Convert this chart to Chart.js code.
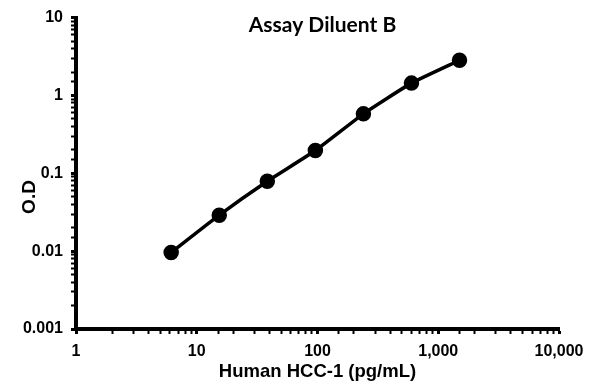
<!DOCTYPE html>
<html>
<head>
<meta charset="utf-8">
<script src="https://cdn.jsdelivr.net/npm/chart.js@4/dist/chart.umd.min.js"></script>
<style>
  html, body { margin: 0; padding: 0; background: #fff; }
  #wrap { width: 595px; height: 392px; }
</style>
</head>
<body>
<div id="wrap"><canvas id="chartCurva"></canvas></div>
<script>
// valores (pg/mL vs O.D)
const concentracoes = [6.14, 15.36, 38.4, 96, 240, 600, 1500];
const densidades = [0.0096, 0.029, 0.079, 0.196, 0.58, 1.44, 2.83];
const ticksX = [1, 10, 100, 1000, 10000];
const ticksY = [0.001, 0.01, 0.1, 1, 10];
const titulo = 'Assay Diluent B';
const tituloX = 'Human HCC-1 (pg/mL)';
const tituloY = 'O.D';

const fonteTicks = { family: "'Liberation Sans', Arial, sans-serif", size: 16, weight: 'bold' };

const ehPotencia = (v) => Math.abs(Math.log10(v) - Math.round(Math.log10(v))) < 1e-9;

// titulo dentro da area do grafico + titulo do eixo Y (deslocado para baixo como no original)
const textosPlugin = {
    id: 'textos',
    afterDraw(chart) {
        const { ctx, chartArea } = chart;
        ctx.save();
        ctx.fillStyle = '#000';
        ctx.textAlign = 'center';
        ctx.textBaseline = 'middle';
        ctx.font = 'bold 21px Lato';
        ctx.fillText(titulo, (chartArea.left + chartArea.right) / 2 + 5, 25);
        ctx.translate(30, 197);
        ctx.rotate(-Math.PI / 2);
        ctx.font = "bold 19px 'Liberation Sans'";
        ctx.fillText(tituloY, 0, 0);
        ctx.restore();
    }
};

new Chart(document.getElementById('chartCurva'), {
    type: 'line',
    data: {
        datasets: [{
            data: concentracoes.map((x, i) => ({ x: x, y: densidades[i] })),
            borderColor: '#000',
            backgroundColor: '#000',
            borderWidth: 3.5,
            pointRadius: 6,
            pointHoverRadius: 6,
            tension: 0.15
        }]
    },
    options: {
        responsive: true,
        maintainAspectRatio: false,
        animation: false,
        layout: { padding: { top: 15, right: 36, left: 0, bottom: 0 } },
        plugins: { legend: { display: false }, tooltip: { enabled: false } },
        scales: {
            x: {
                type: 'logarithmic',
                min: ticksX[0],
                max: ticksX[ticksX.length - 1],
                border: { color: '#000', width: 4 },
                grid: { drawOnChartArea: false, color: '#000', tickLength: 5, tickWidth: (c) => c.tick && ehPotencia(c.tick.value) ? 3 : 2 },
                ticks: {
                    color: '#000', font: fonteTicks, padding: 8, autoSkip: false, maxRotation: 0,
                    callback: (v) => ticksX.includes(v) ? v.toLocaleString('en-US') : ''
                },
                title: { display: true, text: tituloX, color: '#000', font: { family: "'Liberation Sans', Arial, sans-serif", size: 18.5, weight: 'bold' }, padding: { top: 0, bottom: 9 } },
                afterFit: (s) => { s.height = 63; }
            },
            y: {
                type: 'logarithmic',
                min: ticksY[0],
                max: ticksY[ticksY.length - 1],
                border: { color: '#000', width: 4 },
                grid: { drawOnChartArea: false, color: '#000', tickLength: 5, tickWidth: (c) => c.tick && ehPotencia(c.tick.value) ? 3 : 2 },
                ticks: {
                    color: '#000', font: fonteTicks, padding: 8, autoSkip: false,
                    callback: (v) => ticksY.some(t => Math.abs(t - v) / t < 1e-6) ? String(v) : ''
                },
                title: { display: false },
                afterFit: (s) => { s.width = 76; }
            }
        }
    },
    plugins: [textosPlugin]
});
</script>
</body>
</html>
